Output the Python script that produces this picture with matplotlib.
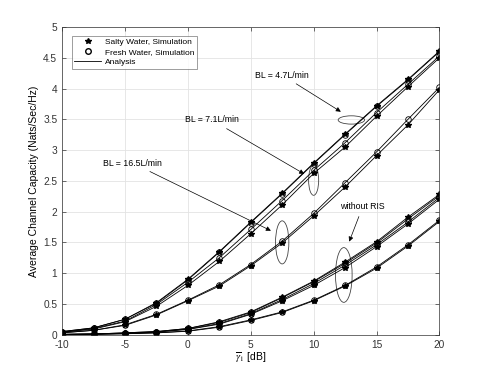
import numpy as np
import matplotlib
matplotlib.use("Agg")
import matplotlib.pyplot as plt
from matplotlib.patches import Ellipse

plt.rcParams['font.family'] = ['Liberation Sans', 'DejaVu Sans']
plt.rcParams['mathtext.fontset'] = 'stix'
plt.rcParams['axes.unicode_minus'] = False

snr_db = [-10, -7.5, -5, -2.5, 0, 2.5, 5, 7.5, 10, 12.5, 15, 17.5, 20]

# with RIS
ris_47_salty = [0.05, 0.11, 0.25, 0.52, 0.90, 1.35, 1.83, 2.30, 2.79, 3.26, 3.72, 4.15, 4.61]
ris_47_fresh = [0.05, 0.11, 0.25, 0.51, 0.89, 1.34, 1.82, 2.29, 2.78, 3.25, 3.71, 4.14, 4.60]
ris_71_fresh = [0.04, 0.10, 0.22, 0.49, 0.85, 1.25, 1.71, 2.18, 2.67, 3.12, 3.61, 4.07, 4.53]
ris_71_salty = [0.04, 0.09, 0.21, 0.46, 0.80, 1.19, 1.64, 2.11, 2.62, 3.05, 3.55, 4.03, 4.50]
ris_165_fresh = [0.03, 0.07, 0.16, 0.33, 0.56, 0.81, 1.14, 1.52, 1.97, 2.47, 2.97, 3.50, 4.02]
ris_165_salty = [0.03, 0.07, 0.15, 0.32, 0.55, 0.79, 1.12, 1.49, 1.93, 2.40, 2.91, 3.41, 3.98]

# without RIS
nor_47_salty = [0.005, 0.01, 0.03, 0.05, 0.10, 0.21, 0.37, 0.61, 0.87, 1.18, 1.51, 1.91, 2.28]
nor_47_fresh = [0.005, 0.01, 0.03, 0.05, 0.10, 0.20, 0.36, 0.60, 0.86, 1.16, 1.49, 1.88, 2.26]
nor_71_fresh = [0.004, 0.01, 0.02, 0.045, 0.09, 0.18, 0.34, 0.57, 0.83, 1.13, 1.46, 1.83, 2.23]
nor_71_salty = [0.004, 0.01, 0.02, 0.04, 0.085, 0.17, 0.33, 0.55, 0.80, 1.09, 1.43, 1.80, 2.20]
nor_165_fresh = [0.003, 0.006, 0.015, 0.03, 0.06, 0.13, 0.24, 0.37, 0.56, 0.80, 1.10, 1.46, 1.86]
nor_165_salty = [0.003, 0.006, 0.014, 0.028, 0.055, 0.12, 0.23, 0.36, 0.55, 0.79, 1.08, 1.44, 1.84]

salty = [ris_47_salty, ris_71_salty, ris_165_salty, nor_47_salty, nor_71_salty, nor_165_salty]
fresh = [ris_47_fresh, ris_71_fresh, ris_165_fresh, nor_47_fresh, nor_71_fresh, nor_165_fresh]

fig = plt.figure(figsize=(4.85, 3.76), dpi=100)
ax = fig.add_axes([0.128, 0.110, 0.778, 0.818])

for s in salty + fresh:
    ax.plot(snr_db, s, color='black', linewidth=0.6)
for s in salty:
    ax.plot(snr_db, s, linestyle='none', marker='*', color='black', markersize=3.8)
for s in fresh:
    ax.plot(snr_db, s, linestyle='none', marker='o', markerfacecolor='none',
            markeredgecolor='black', markersize=4, markeredgewidth=0.6)

# legend handles
ax.plot([], [], linestyle='none', marker='*', color='black', markersize=3.8, label='Salty Water, Simulation')
ax.plot([], [], linestyle='none', marker='o', markerfacecolor='none', markeredgecolor='black',
        markersize=4, label='Fresh Water, Simulation')
ax.plot([], [], color='black', linewidth=0.6, label='Analysis')
handles, labels = ax.get_legend_handles_labels()
leg = ax.legend(handles[-3:], labels[-3:], loc='upper left', bbox_to_anchor=(0.015, 0.985),
                fontsize=6, frameon=True, fancybox=False, edgecolor='#555555',
                handlelength=3.2, borderpad=0.3, labelspacing=0.25, handletextpad=0.5)
leg.get_frame().set_linewidth(0.5)

# annotations
arrow = dict(arrowstyle='-|>', color='black', lw=0.5, mutation_scale=7)
ell_kw = dict(fill=False, edgecolor='#444444', linewidth=0.6)
ax.add_patch(Ellipse((13.0, 3.49), 2.1, 0.135, **ell_kw))
ax.annotate('BL = 4.7L/min', xy=(12.35, 3.60), xytext=(7.5, 4.22), fontsize=6.3,
            ha='center', va='center', arrowprops=arrow)
ax.add_patch(Ellipse((10.0, 2.51), 0.8, 0.49, **ell_kw))
ax.annotate('BL = 7.1L/min', xy=(9.44, 2.59), xytext=(1.9, 3.49), fontsize=6.3,
            ha='center', va='center', arrowprops=arrow)
ax.add_patch(Ellipse((7.5, 1.5), 1.06, 0.70, **ell_kw))
ax.annotate('BL = 16.5L/min', xy=(6.8, 1.67), xytext=(-4.4, 2.79), fontsize=6.3,
            ha='center', va='center', arrowprops=arrow)
ax.add_patch(Ellipse((12.4, 0.97), 1.32, 0.89, **ell_kw))
ax.annotate('without RIS', xy=(12.75, 1.47), xytext=(13.9, 2.08), fontsize=6.3,
            ha='center', va='center', arrowprops=arrow)

ax.set_xlim(-10, 20)
ax.set_ylim(0, 5)
ax.set_xticks([-10, -5, 0, 5, 10, 15, 20])
ax.set_yticks(np.arange(0, 5.01, 0.5))
ax.set_yticklabels(['0', '0.5', '1', '1.5', '2', '2.5', '3', '3.5', '4', '4.5', '5'])
ax.grid(True, color='#e3e3e3', linewidth=0.6)
ax.set_axisbelow(True)
ax.tick_params(direction='in', top=True, right=True, labelsize=7.3, colors='#333333',
               length=3, width=0.5)
for sp in ax.spines.values():
    sp.set_linewidth(0.5)
    sp.set_color('#333333')
ax.set_xlabel(r'$\overline{\gamma}_1$ [dB]', fontsize=7.5, labelpad=1)
ax.set_ylabel('Average Channel Capacity (Nats/Sec/Hz)', fontsize=7.5, labelpad=3)

fig.savefig('out.png', dpi=100)
